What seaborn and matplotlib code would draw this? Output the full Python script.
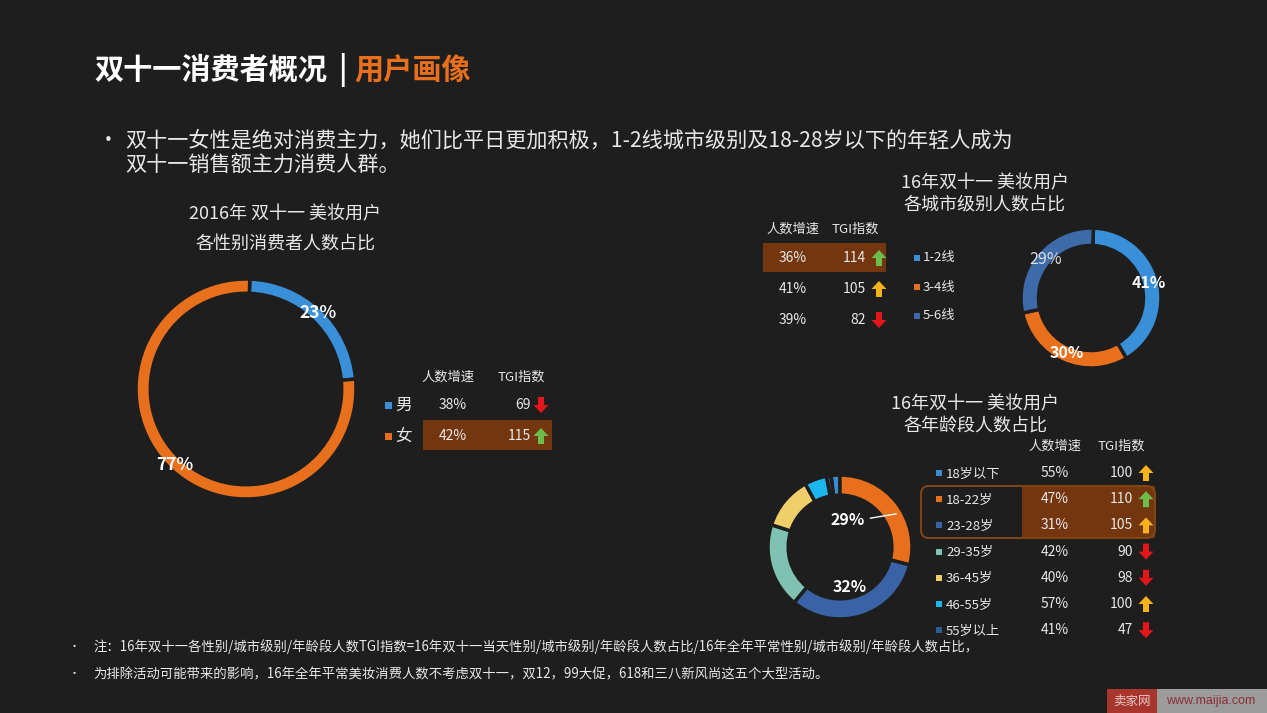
import matplotlib
matplotlib.use('Agg')
import matplotlib.pyplot as plt
import matplotlib.patches as mpatches
import numpy as np
import seaborn as sns

# ---- data ----
gender_labels = ['男', '女']
gender_share = [23, 77]
gender_growth = [38, 42]
gender_tgi = [69, 115]

city_labels = ['1-2线', '3-4线', '5-6线']
city_share = [41, 30, 29]
city_growth = [36, 41, 39]
city_tgi = [114, 105, 82]

age_labels = ['18岁以下', '18-22岁', '23-28岁', '29-35岁', '36-45岁', '46-55岁', '55岁以上']
age_share = [2, 29, 32, 19, 12, 5, 1]
age_growth = [55, 47, 31, 42, 40, 57, 41]
age_tgi = [100, 110, 105, 90, 98, 100, 47]

BG = '#1e1e1e'
ORANGE = '#e8701c'
BROWN = '#73360f'
sns.set_theme(style='dark', rc={'axes.facecolor': BG, 'figure.facecolor': BG})
plt.rcParams['font.family'] = ['Noto Sans CJK SC', 'DejaVu Sans']

gender_pal = sns.color_palette(['#3a90d8', ORANGE])
city_pal = sns.color_palette(['#3a90d8', ORANGE, '#3d6aa8'])
age_pal = sns.color_palette(['#3a8ad4', ORANGE, '#3a62a6', '#80c2b2', '#f0cf6a', '#1cb6ee', '#2b5e8e'])

W, H = 1267, 713
fig = plt.figure(figsize=(W / 100, H / 100), dpi=100, facecolor=BG)
ov = fig.add_axes([0, 0, 1, 1])
ov.set_xlim(0, W)
ov.set_ylim(H, 0)
ov.axis('off')
ov.set_facecolor(BG)

TXT = '#e8e8e8'

# ---- header ----
ov.text(94, 70, '双十一消费者概况', color='white', fontsize=21, fontweight='bold', va='center')
ov.text(342, 70, '|', color='white', fontsize=21, fontweight='bold', va='center', ha='center')
ov.text(354, 70, '用户画像', color=ORANGE, fontsize=21, fontweight='bold', va='center')
ov.text(98, 141, '•', color=TXT, fontsize=15, va='center')
ov.text(125, 141, '双十一女性是绝对消费主力，她们比平日更加积极，1-2线城市级别及18-28岁以下的年轻人成为',
        color=TXT, fontsize=15.2, va='center')
ov.text(125, 166, '双十一销售额主力消费人群。', color=TXT, fontsize=15.2, va='center')


def arrow(x, y, tgi):
    if tgi >= 110:
        c, up = '#6cbd4c', True
    elif tgi >= 100:
        c, up = '#f5b21a', True
    else:
        c, up = '#e3161b', False
    if up:
        ov.add_patch(mpatches.FancyArrow(x, y + 8, 0, -16, width=6, head_width=15, head_length=8,
                                         length_includes_head=True, color=c, lw=0))
    else:
        ov.add_patch(mpatches.FancyArrow(x, y - 8, 0, 16, width=6, head_width=15, head_length=8,
                                         length_includes_head=True, color=c, lw=0))


def square(x, y, c, s=7):
    ov.add_patch(mpatches.Rectangle((x - s / 2, y - s / 2), s, s, color=c, lw=0))


def donut(cx, cy, r, vals, cols, width, start):
    ax = fig.add_axes([(cx - r) / W, 1 - (cy + r) / H, 2 * r / W, 2 * r / H])
    ax.pie(vals, colors=cols, startangle=start, counterclock=False,
           wedgeprops=dict(width=width, edgecolor=BG, linewidth=2.5))
    ax.set_xlim(-1, 1)
    ax.set_ylim(-1, 1)
    ax.patch.set_alpha(0)
    return ax


def label_at(ax, vals, start, dist, idx, **kw):
    tot = sum(vals)
    before = sum(vals[:idx]) + vals[idx] / 2
    ang = np.deg2rad(start - before / tot * 360)
    ax.text(dist * np.cos(ang), dist * np.sin(ang), f'{vals[idx]}%', ha='center', va='center', **kw)


# ---- gender ----
ov.text(285, 214, '2016年 双十一 美妆用户', color=TXT, fontsize=13, ha='center', va='center')
ov.text(285, 245, '各性别消费者人数占比', color=TXT, fontsize=13, ha='center', va='center')
gax = donut(246, 389, 110, gender_share, gender_pal, 0.13, 88)
label_at(gax, gender_share, 88, 0.95, 0, color='white', fontsize=12.5, fontweight='bold')
label_at(gax, gender_share, 88, 0.95, 1, color='white', fontsize=12.5, fontweight='bold')

ov.add_patch(mpatches.Rectangle((423, 420), 129, 30, color=BROWN, lw=0))
ov.text(448, 377, '人数增速', color=TXT, fontsize=9.5, ha='center', va='center')
ov.text(521, 377, 'TGI指数', color=TXT, fontsize=9.5, ha='center', va='center')
for i, (lab, g, t) in enumerate(zip(gender_labels, gender_growth, gender_tgi)):
    y = 405 + i * 31
    square(388, y, gender_pal[i])
    ov.text(395, y, lab, color=TXT, fontsize=12, va='center')
    ov.text(453, y, f'{g}%', color=TXT, fontsize=10, ha='center', va='center')
    ov.text(531, y, f'{t}', color=TXT, fontsize=10, ha='right', va='center')
    arrow(541, y, t)

# ---- city ----
ov.text(985, 183, '16年双十一 美妆用户', color=TXT, fontsize=13, ha='center', va='center')
ov.text(985, 205, '各城市级别人数占比', color=TXT, fontsize=13, ha='center', va='center')
ov.add_patch(mpatches.Rectangle((763, 243), 123, 29, color=BROWN, lw=0))
ov.text(793, 229, '人数增速', color=TXT, fontsize=9.5, ha='center', va='center')
ov.text(855, 229, 'TGI指数', color=TXT, fontsize=9.5, ha='center', va='center')
for i, (lab, g, t) in enumerate(zip(city_labels, city_growth, city_tgi)):
    y = 258 + i * 31
    ov.text(793, y, f'{g}%', color=TXT, fontsize=10, ha='center', va='center')
    ov.text(866, y, f'{t}', color=TXT, fontsize=10, ha='right', va='center')
    arrow(879, y, t)
    ly = 258 + i * 29
    square(917, ly, city_pal[i], 6)
    ov.text(923, ly, lab, color=TXT, fontsize=9.5, va='center')
cax = donut(1091, 298, 70, city_share, city_pal, 0.25, 88)
label_at(cax, city_share, 88, 0.85, 0, color='white', fontsize=11.5, fontweight='bold')
label_at(cax, city_share, 88, 0.85, 1, color='white', fontsize=11.5, fontweight='bold')
label_at(cax, city_share, 88, 0.85, 2, color='#dddddd', fontsize=11.5)

# ---- age ----
ov.text(975, 404, '16年双十一 美妆用户', color=TXT, fontsize=13, ha='center', va='center')
ov.text(975, 426, '各年龄段人数占比', color=TXT, fontsize=13, ha='center', va='center')
ov.add_patch(mpatches.Rectangle((1022, 486), 133, 52, color=BROWN, lw=0))
ov.add_patch(mpatches.FancyBboxPatch((921, 486), 234, 52, boxstyle='round,pad=0,rounding_size=8',
                                     fc='none', ec='#8a4716', lw=1.3))
ov.text(1055, 446, '人数增速', color=TXT, fontsize=9.5, ha='center', va='center')
ov.text(1121, 446, 'TGI指数', color=TXT, fontsize=9.5, ha='center', va='center')
for i, (lab, g, t) in enumerate(zip(age_labels, age_growth, age_tgi)):
    y = 473 + i * 26.2
    square(939, y, age_pal[i], 6)
    ov.text(946, y + 1, lab, color=TXT, fontsize=9.5, va='center')
    ov.text(1055, y, f'{g}%', color=TXT, fontsize=10, ha='center', va='center')
    ov.text(1133, y, f'{t}', color=TXT, fontsize=10, ha='right', va='center')
    arrow(1146, y, t)
start_age = 90 + age_share[0] / sum(age_share) * 360
aax = donut(840, 547, 72, age_share, age_pal, 0.28, start_age)
aax.text(0.11, 0.38, f'{age_share[1]}%', color='white', fontsize=11.5, fontweight='bold', ha='center', va='center')
aax.plot([0.42, 0.78], [0.40, 0.46], color='white', lw=1)
aax.text(0.13, -0.56, f'{age_share[2]}%', color='white', fontsize=11.5, fontweight='bold', ha='center', va='center')

# ---- footnotes ----
ov.text(69, 647, '•', color=TXT, fontsize=8, va='center')
ov.text(93, 647, '注：16年双十一各性别/城市级别/年龄段人数TGI指数=16年双十一当天性别/城市级别/年龄段人数占比/16年全年平常性别/城市级别/年龄段人数占比，',
        color=TXT, fontsize=9.6, va='center')
ov.text(69, 674, '•', color=TXT, fontsize=8, va='center')
ov.text(93, 674, '为排除活动可能带来的影响，16年全年平常美妆消费人数不考虑双十一，双12，99大促，618和三八新风尚这五个大型活动。',
        color=TXT, fontsize=9.6, va='center')

# site mark
ov.add_patch(mpatches.Rectangle((1107, 689), 50, 24, color='#a8362f', lw=0))
ov.add_patch(mpatches.Rectangle((1157, 689), 110, 24, color='#9c9c9c', lw=0))
ov.text(1132, 701, '卖家网', color='#e8c8c8', fontsize=9, ha='center', va='center')
ov.text(1211, 701, 'www.maijia.com', color='#8a2f3a', fontsize=9, ha='center', va='center',
        family=['Liberation Sans', 'DejaVu Sans'])

fig.savefig('out.png', dpi=100, facecolor=BG)
